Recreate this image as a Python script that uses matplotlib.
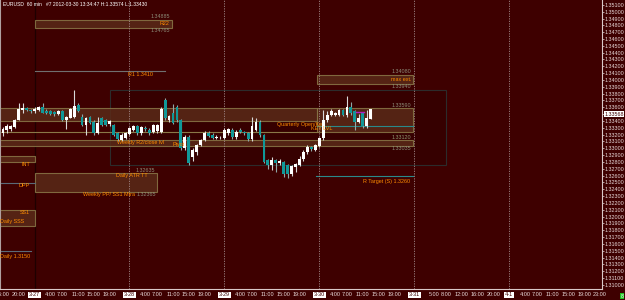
import numpy as np
import matplotlib
matplotlib.use('Agg')
import matplotlib.pyplot as plt
from matplotlib.patches import Rectangle

plt.rcParams['font.family'] = ['Liberation Sans', 'DejaVu Sans']

# EURUSD H1, hour 0 = 2012-03-27 00:00
hours = list(range(-8, 86))
opens = [1.3323, 1.3327, 1.3328, 1.3331, 1.3342, 1.3356, 1.3359, 1.3356, 1.3354, 1.3356,
         1.3360, 1.3355, 1.3354, 1.3353, 1.3350, 1.3354, 1.3341, 1.3345, 1.3346, 1.3363,
         1.3346, 1.3334, 1.3346, 1.3339, 1.3322, 1.3344, 1.3341, 1.3335, 1.3334, 1.3322,
         1.3312, 1.3315, 1.3321, 1.3327, 1.3332, 1.3322, 1.3330, 1.3327, 1.3324, 1.3325,
         1.3324, 1.3371, 1.3341, 1.3351, 1.3361, 1.3341, 1.3300, 1.3317, 1.3287, 1.3295,
         1.3305, 1.3312, 1.3322, 1.3320, 1.3315, 1.3316, 1.3315, 1.3322, 1.3327, 1.3316,
         1.3327, 1.3324, 1.3322, 1.3313, 1.3327, 1.3339, 1.3319, 1.3283, 1.3276, 1.3283,
         1.3279, 1.3280, 1.3275, 1.3262, 1.3273, 1.3276, 1.3284, 1.3294, 1.3302, 1.3298,
         1.3304, 1.3315, 1.3341, 1.3349, 1.3349, 1.3349, 1.3356, 1.3349, 1.3361, 1.3354,
         1.3339, 1.3351, 1.3332, 1.3343]
highs = [1.3331, 1.3336, 1.3334, 1.3343, 1.3367, 1.3367, 1.3360, 1.3358, 1.3360, 1.3362,
         1.3367, 1.3357, 1.3356, 1.3354, 1.3356, 1.3356, 1.3347, 1.3359, 1.3385, 1.3366,
         1.3350, 1.3346, 1.3348, 1.3341, 1.3346, 1.3346, 1.3343, 1.3342, 1.3336, 1.3324,
         1.3322, 1.3324, 1.3331, 1.3334, 1.3334, 1.3333, 1.3332, 1.3329, 1.3336, 1.3336,
         1.3360, 1.3373, 1.3349, 1.3365, 1.3363, 1.3343, 1.3319, 1.3319, 1.3300, 1.3307,
         1.3314, 1.3325, 1.3326, 1.3322, 1.3319, 1.3318, 1.3330, 1.3330, 1.3329, 1.3327,
         1.3330, 1.3326, 1.3324, 1.3346, 1.3344, 1.3341, 1.3321, 1.3285, 1.3287, 1.3285,
         1.3284, 1.3282, 1.3277, 1.3276, 1.3279, 1.3288, 1.3297, 1.3305, 1.3304, 1.3307,
         1.3317, 1.3356, 1.3354, 1.3357, 1.3353, 1.3358, 1.3358, 1.3377, 1.3368, 1.3356,
         1.3350, 1.3353, 1.3356, 1.33574]
lows = [1.3318, 1.3322, 1.3326, 1.3330, 1.3341, 1.3351, 1.3355, 1.3352, 1.3352, 1.3355,
        1.3351, 1.3350, 1.3349, 1.3348, 1.3349, 1.3340, 1.3328, 1.3344, 1.3345, 1.3353,
        1.3332, 1.3320, 1.3335, 1.3320, 1.3321, 1.3332, 1.3332, 1.3333, 1.3318, 1.3311,
        1.3310, 1.3313, 1.3319, 1.3325, 1.3320, 1.3320, 1.3326, 1.3320, 1.3322, 1.3323,
        1.3322, 1.3342, 1.3339, 1.3335, 1.3339, 1.3298, 1.3298, 1.3276, 1.3281, 1.3290,
        1.3303, 1.3310, 1.3316, 1.3313, 1.3313, 1.3314, 1.3313, 1.3320, 1.3314, 1.3314,
        1.3322, 1.3320, 1.3311, 1.3311, 1.3325, 1.3317, 1.3278, 1.3270, 1.3268, 1.3265,
        1.3275, 1.3258, 1.3256, 1.3260, 1.3265, 1.3274, 1.3282, 1.3292, 1.3296, 1.3296,
        1.3302, 1.3312, 1.3339, 1.3347, 1.3347, 1.3347, 1.3347, 1.3346, 1.3349, 1.3327,
        1.3337, 1.3330, 1.3330, 1.3343]
closes = [1.3328, 1.3333, 1.3332, 1.3342, 1.3357, 1.3359, 1.3356, 1.3354, 1.3357, 1.3360,
          1.3352, 1.3352, 1.3350, 1.3350, 1.3354, 1.3341, 1.3346, 1.3357, 1.3362, 1.3354,
          1.3334, 1.3344, 1.3337, 1.3322, 1.3337, 1.3334, 1.3334, 1.3340, 1.3320, 1.3313,
          1.3320, 1.3322, 1.3329, 1.3332, 1.3322, 1.3331, 1.3328, 1.3322, 1.3334, 1.3334,
          1.3357, 1.3344, 1.3347, 1.3337, 1.3341, 1.3300, 1.3317, 1.3278, 1.3297, 1.3305,
          1.3312, 1.3322, 1.3318, 1.3315, 1.3317, 1.3317, 1.3327, 1.3328, 1.3316, 1.3324,
          1.3324, 1.3322, 1.3313, 1.3332, 1.3339, 1.3319, 1.3280, 1.3276, 1.3283, 1.3279,
          1.3281, 1.3263, 1.3263, 1.3274, 1.3277, 1.3285, 1.3295, 1.3302, 1.3299, 1.3305,
          1.3315, 1.3341, 1.3349, 1.3354, 1.3351, 1.3356, 1.3349, 1.3361, 1.3351, 1.3338,
          1.3344, 1.3332, 1.3344, 1.33568]

time_ticks = [-8, -4, 0, 4, 7, 11, 15, 19, 24, 28, 31, 35, 39, 43, 48, 52, 55, 59, 63, 67,
              72, 76, 79, 83, 87, 91, 96, 101, 104, 108, 112, 116, 120, 124, 127, 131, 135, 139, 143]
time_labels = ['16:00', '20:00', '3-27', '4:00', '7:00', '11:00', '15:00', '19:00',
               '3-28', '4:00', '7:00', '11:00', '15:00', '19:00',
               '3-29', '4:00', '7:00', '11:00', '15:00', '19:00',
               '3-30', '4:00', '7:00', '11:00', '15:00', '19:00',
               '3-31', '5:00', '8:00', '12:00', '16:00', '20:00',
               '4-1', '4:00', '7:00', '11:00', '15:00', '19:00', '23:00']
day_starts = [24, 48, 72, 96, 120]

# zones (start hour, end hour, low, high)
zone_start = [0, 71.5, 0, -9, 71.5, -9, -9, -9]
zone_end = [34.7, 95.6, 30.9, 71.5, 95.6, 95.6, 0, 0]
zone_low = [1.34765, 1.33940, 1.32365, 1.33400, 1.33240, 1.33035, 1.32800, 1.31866]
zone_high = [1.34885, 1.34080, 1.32635, 1.33590, 1.33590, 1.33120, 1.32890, 1.32096]

bg = '#3e0000'
orange = '#ff8c00'
grey = '#8c8c78'

fig = plt.figure(figsize=(6.25, 3.0), dpi=100, facecolor=bg)
ax = fig.add_axes([0, 11 / 300, 602 / 625, 289 / 300], facecolor=bg)
ax.set_xlim(-8.75, 143.5)
ax.set_ylim(1.30940, 1.35171)

# big dark rectangle
ax.add_patch(Rectangle((19, 1.32756), 85.1, 1.33854 - 1.32756, facecolor='#360000',
                       edgecolor='#2c2c2c', lw=0.8, zorder=1))

for x0, x1, lo, hi in zip(zone_start, zone_end, zone_low, zone_high):
    ax.add_patch(Rectangle((x0, lo), x1 - x0, hi - lo, facecolor='#5a2a18', alpha=0.85,
                           edgecolor='#8a7848', lw=0.8, zorder=2))

# horizontal lines
ax.plot([0, 32.9], [1.3413, 1.3413], color='#707070', lw=0.8, zorder=2)
ax.plot([-9, 71.5], [1.3324, 1.3324], color='#8a7848', lw=0.8, zorder=2)
ax.plot([-9, 0], [1.32488, 1.32488], color='#5a6a78', lw=0.8, zorder=2)
ax.plot([-9, -1], [1.3150, 1.3150], color='#5a6a78', lw=0.8, zorder=2)
ax.plot([71.5, 95.6], [1.3332, 1.3332], color='#2a8a8a', lw=0.8, zorder=2)
ax.plot([71.2, 95.6], [1.3259, 1.3259], color='#2a8a8a', lw=0.8, zorder=2)

# separators
ax.axvline(0, color='#1e0000', lw=0.9, zorder=1)
for d in day_starts:
    ax.axvline(d - 0.1, color='#a08888', lw=0.6, ls=(0, (1.5, 1.5)), zorder=2)

# candles
for h, o, hi, lo, c in zip(hours, opens, highs, lows, closes):
    up = c >= o
    ax.vlines(h, lo, hi, color='#d8d8d8' if up else '#90a8a8', lw=0.8, zorder=3)
    body = max(abs(c - o), 0.00008)
    ax.bar(h, body, bottom=min(o, c), width=0.72, color='#ffffff' if up else '#109898',
           lw=0, zorder=4)

ax.plot([81.2, 83.2], [1.3353, 1.3353], color='#b020c0', lw=1.0, zorder=5)

fs = 3.9
def label(x, y, s, color=orange, ha='left', va='center'):
    ax.text(x, y, s, color=color, fontsize=fs, ha=ha, va=va, zorder=6)

label(34.2, 1.34890, '1.34885', grey, 'right', 'bottom')
label(34.2, 1.34825, 'R22', orange, 'right')
label(34.2, 1.34760, '1.34765', grey, 'right', 'top')
label(23.6, 1.34075, 'R1 1.3410')
label(95.2, 1.34085, '1.34080', grey, 'right', 'bottom')
label(95.2, 1.34010, 'max ext.', orange, 'right')
label(95.2, 1.33935, '1.33940', grey, 'right', 'top')
label(95.2, 1.33595, '1.33590', grey, 'right', 'bottom')
label(95.2, 1.33125, '1.33120', '#8c9470', 'right', 'bottom')
label(95.2, 1.33030, '1.33035', grey, 'right', 'top')
label(61.3, 1.33350, 'Quarterly Open/Ke')
label(70.0, 1.33285, 'KEY LVL')
label(20.9, 1.33090, 'Weekly R2/close lvl')
label(34.8, 1.33050, 'Pivot')
label(95.0, 1.32510, 'R Target (S) 1.3260', orange, 'right')
label(30.5, 1.32640, '1.32635', grey, 'right', 'bottom')
label(28.7, 1.32605, 'Daily ATR TT', orange, 'right')
label(25.4, 1.32330, 'Weekly PP/ SS1 Mtra', orange, 'right')
label(30.6, 1.32360, '1.32365', grey, 'right', 'top')
label(-1.2, 1.32770, 'INT', orange, 'right')
label(-1.2, 1.32450, 'DPP', orange, 'right')
label(-1.2, 1.32065, 'SS1', orange, 'right')
label(-8.7, 1.31935, 'Daily SSS')
label(-8.7, 1.31420, 'Daily 1.3150')

fig.text(3 / 625, 1 - 4 / 300, 'EURUSD  60 min   #7 2012-03-30 13:34:47 H:1.33574 L:1.33430',
         color='white', fontsize=3.6, ha='left', va='center')

# axes
ax.spines['top'].set_visible(False)
ax.spines['left'].set_color('#b0a0a0')
ax.spines['left'].set_linewidth(0.8)
ax.spines['right'].set_color('#d8c8c8')
ax.spines['bottom'].set_color('#d8c8c8')
ax.spines['right'].set_linewidth(0.8)
ax.spines['bottom'].set_linewidth(0.8)

yt = np.round(np.arange(1.310, 1.3515, 0.001), 3)
ax.yaxis.tick_right()
ax.set_yticks(yt)
ax.set_yticklabels(['' if abs(v - 1.335) < 1e-6 else '%.5f' % v for v in yt])
ax.tick_params(axis='y', colors='#e8dada', labelsize=3.9, length=1.5, width=0.5, pad=0.5)
ax.set_xticks(time_ticks)
ax.set_xticklabels(time_labels)
ax.tick_params(axis='x', colors='#e8dada', labelsize=4.0, length=0, pad=2.5)
for t in ax.get_xticklabels():
    if '-' in t.get_text():
        t.set_color('#3e0000')
        t.set_bbox(dict(facecolor='white', edgecolor='none', pad=0.6))

# current price marker, drawn where the terminal puts it on the scale
ax.text(1.004, 1.3350, '1.33568', transform=ax.get_yaxis_transform(), fontsize=3.9,
        color='#3e0000', va='center', ha='left',
        bbox=dict(facecolor='white', edgecolor='none', pad=0.4))
fig.text(622 / 625, 4 / 300, '8', fontsize=3.8, color='white', ha='center', va='center',
         bbox=dict(facecolor='#20c020', edgecolor='none', pad=0.5))

fig.savefig('out.png', dpi=100, facecolor=bg)
